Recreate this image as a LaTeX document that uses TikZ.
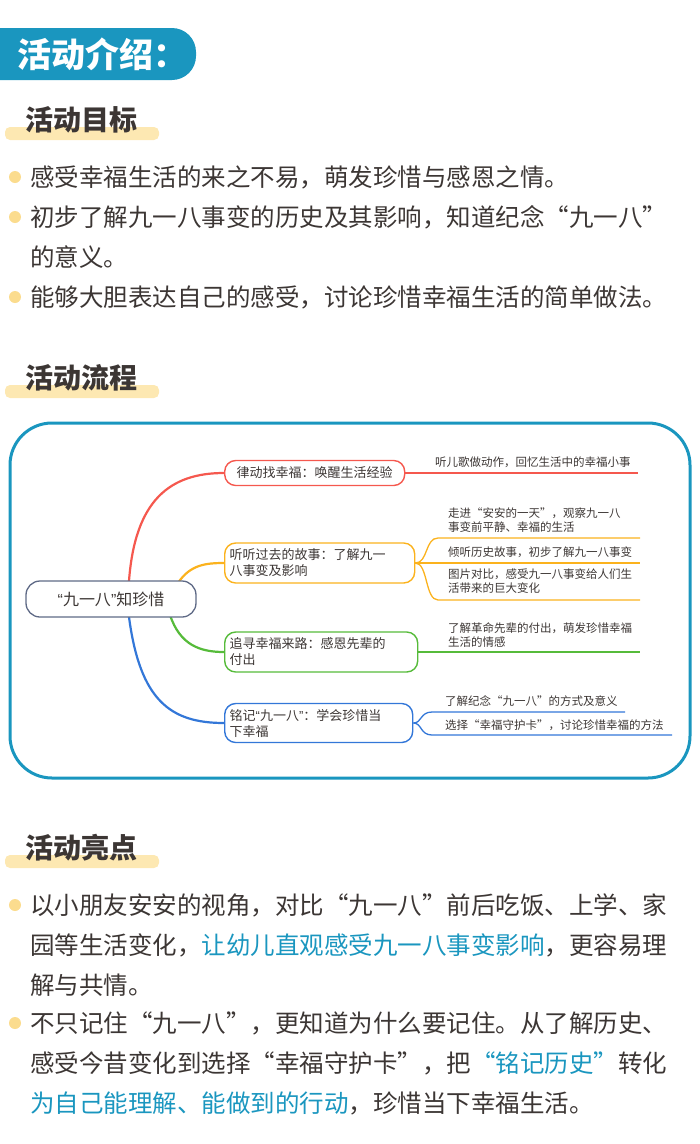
\documentclass[tikz,border=0pt]{standalone}
\usepackage{fontspec}
\setmainfont{Noto Sans CJK SC}
\newfontfamily\latinq{Liberation Sans}
\definecolor{tabblue}{HTML}{1A96BF}
\definecolor{hlbar}{HTML}{FDE8B2}
\definecolor{dotyel}{HTML}{FBDC8E}
\definecolor{bodytxt}{HTML}{3C3634}
\definecolor{mmred}{HTML}{F5584E}
\definecolor{mmorange}{HTML}{FBB21D}
\definecolor{mmgreen}{HTML}{56BB3A}
\definecolor{mmblue}{HTML}{3377D8}
\definecolor{mmgray}{HTML}{5F6A86}
\newcommand{\hl}[1]{\textcolor{tabblue}{#1}}
\newcommand{\nq}[1]{{\latinq“}#1{\latinq”}}
\begin{document}
\begin{tikzpicture}[x=1pt,y=-1pt,
  head/.style={anchor=west,font=\fontsize{28}{30}\selectfont\bfseries,text=bodytxt,inner sep=0},
  line/.style={anchor=west,font=\fontsize{24.5}{26}\selectfont,text=bodytxt,inner sep=0},
  dot/.style={circle,fill=dotyel,inner sep=0,minimum size=12pt},
  branch/.style={draw,line width=1.4pt,rounded corners=11pt,anchor=west,align=left,
    font=\fontsize{13}{16}\selectfont,text=bodytxt,inner sep=5pt},
  leaf/.style={anchor=west,align=left,font=\fontsize{11.5}{13.5}\selectfont,text=bodytxt,inner sep=0},
  twig/.style={line width=1.3pt},
  limb/.style={line width=2.2pt}]
  \useasboundingbox (0,0) rectangle (700,1144);
  % title tab
  \fill[tabblue,rounded corners=24pt] (-30,28) rectangle (196,80);
  \node[anchor=west,text=white,font=\fontsize{34}{36}\selectfont\bfseries] (title) at (14,54) {活动介绍：};
  % section heads
  \foreach \y/\t [count=\i] in {120/活动目标,378/活动流程,848/活动亮点}{
    \fill[hlbar,rounded corners=5pt] (5,\y+7) rectangle (159,\y+20);
    \node[head] (sec\i) at (25,\y) {\t};
  }
  % goals
  \foreach \y in {177,217,297} \node[dot] (g\y) at (15,\y) {};
  \node[line] (g1) at (30,177) {感受幸福生活的来之不易，萌发珍惜与感恩之情。};
  \node[line] (g2) at (30,217) {初步了解九一八事变的历史及其影响，知道纪念“九一八”};
  \node[line] (g3) at (30,257) {的意义。};
  \node[line] (g4) at (30,297) {能够大胆表达自己的感受，讨论珍惜幸福生活的简单做法。};
  % mind map frame
  \draw[tabblue,line width=3pt,rounded corners=42pt] (10,423) rectangle (690,778);
  \coordinate (rt1) at (129,581);
  \coordinate (rt2) at (178,583);
  \coordinate (rt3) at (170,615);
  \coordinate (rt4) at (129,617);
  \draw[limb,mmred] (rt1) .. controls (135,500) and (170,473) .. (224,473);
  \draw[limb,mmorange] (rt2) .. controls (190,565) and (205,563) .. (224,563);
  \draw[limb,mmgreen] (rt3) .. controls (180,645) and (200,652) .. (224,652);
  \draw[limb,mmblue] (rt4) .. controls (140,700) and (170,723) .. (224,723);
  \node[draw=mmgray,line width=1.3pt,rounded corners=14pt,minimum width=170pt,minimum height=36pt,
    fill=white,font=\fontsize{16}{18}\selectfont,text=bodytxt] (root) at (111,599) {\nq{九一八}知珍惜};
  \node[branch,draw=mmred,minimum width=180pt,minimum height=25pt] (b1) at (224,473) {律动找幸福：唤醒生活经验};
  \node[branch,draw=mmorange,text width=180pt,minimum height=40pt] (b2) at (224,563) {听听过去的故事：了解九一\\八事变及影响};
  \node[branch,draw=mmgreen,text width=183pt,minimum height=40pt] (b3) at (224,652) {追寻幸福来路：感恩先辈的\\付出};
  \node[branch,draw=mmblue,text width=178pt,minimum height=39pt] (b4) at (224,723) {铭记\nq{九一八}：学会珍惜当\\下幸福};
  % leaves
  \coordinate (e1) at (638,473);
  \draw[twig,mmred] (b1.east) -- (e1);
  \node[leaf] (l1) at (435,462) {听儿歌做动作，回忆生活中的幸福小事};
  \coordinate (e21) at (640,538);
  \coordinate (e22) at (640,563);
  \coordinate (e23) at (640,600);
  \draw[twig,mmorange] (b2.east) .. controls (428,563) and (425,538) .. (438,538) -- (e21);
  \draw[twig,mmorange] (b2.east) -- (e22);
  \draw[twig,mmorange] (b2.east) .. controls (428,563) and (425,600) .. (438,600) -- (e23);
  \node[leaf] (l21) at (448,520) {走进“安安的一天”，观察九一八\\事变前平静、幸福的生活};
  \node[leaf] (l22) at (448,552) {倾听历史故事，初步了解九一八事变};
  \node[leaf] (l23) at (448,581) {图片对比，感受九一八事变给人们生\\活带来的巨大变化};
  \coordinate (e3) at (640,652);
  \draw[twig,mmgreen] (b3.east) -- (e3);
  \node[leaf] (l3) at (448,635) {了解革命先辈的付出，萌发珍惜幸福\\生活的情感};
  \coordinate (e41) at (625,712);
  \coordinate (e42) at (672,735);
  \draw[twig,mmblue] (b4.east) .. controls (422,723) and (420,712) .. (432,712) -- (e41);
  \draw[twig,mmblue] (b4.east) .. controls (422,723) and (420,735) .. (432,735) -- (e42);
  \node[leaf] (l41) at (445,701) {了解纪念“九一八”的方式及意义};
  \node[leaf] (l42) at (445,725) {选择“幸福守护卡”，讨论珍惜幸福的方法};
  % highlights
  \foreach \y in {905,1023} \node[dot] (h\y) at (15,\y) {};
  \node[line] (h1) at (30,905) {以小朋友安安的视角，对比“九一八”前后吃饭、上学、家};
  \node[line] (h2) at (30,945) {园等生活变化，\hl{让幼儿直观感受九一八事变影响}，更容易理};
  \node[line] (h3) at (30,985) {解与共情。};
  \node[line] (h4) at (30,1023) {不只记住“九一八”，更知道为什么要记住。从了解历史、};
  \node[line] (h5) at (30,1063) {感受今昔变化到选择“幸福守护卡”，把\hl{“铭记历史”}转化};
  \node[line] (h6) at (30,1103) {\hl{为自己能理解、能做到的行动}，珍惜当下幸福生活。};
\end{tikzpicture}
\end{document}
